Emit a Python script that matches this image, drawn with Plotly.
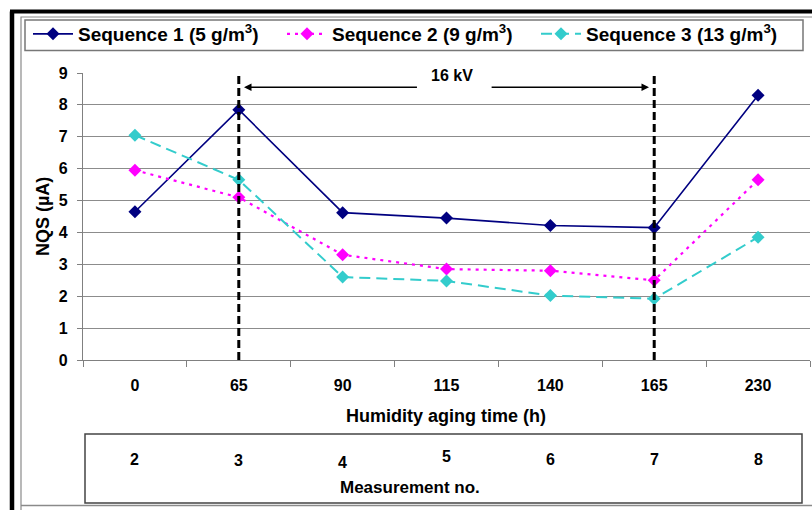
import plotly.graph_objects as go

# ---------------- data ----------------
aging_time_h = ["0", "65", "90", "115", "140", "165", "230"]
measurement_no = ["2", "3", "4", "5", "6", "7", "8"]
seq1_nqs = [4.65, 7.85, 4.62, 4.45, 4.22, 4.15, 8.30]
seq2_nqs = [5.95, 5.10, 3.30, 2.85, 2.80, 2.50, 5.65]
seq3_nqs = [7.05, 5.65, 2.60, 2.48, 2.02, 1.92, 3.85]
series_names = ["Sequence 1 (5 g/m<sup>3</sup>)",
                "Sequence 2 (9 g/m<sup>3</sup>)",
                "Sequence 3 (13 g/m<sup>3</sup>)"]
voltage_label = "16 kV"
voltage_start, voltage_end = "65", "165"

# ---------------- layout helpers ----------------
W, H = 812, 510
L, R, T, B = 83, 2, 73, 150
PW, PH = W - L - R, H - T - B


def px(x):
    return (x - L) / PW


def py(y):
    return (H - B - y) / PH


FONT = "Liberation Sans, Arial, sans-serif"

fig = go.Figure()
styles = [
    dict(color="#000080", width=1.6, dash="solid"),
    dict(color="#FF00FF", width=2.2, dash="3px,5px"),
    dict(color="#33CCCC", width=2.0, dash="11px,6px"),
]
for name, vals, st in zip(series_names, [seq1_nqs, seq2_nqs, seq3_nqs], styles):
    fig.add_trace(go.Scatter(
        x=aging_time_h, y=vals, name=name, mode="lines+markers",
        line=st, marker=dict(symbol="diamond", size=10, color=st["color"]),
    ))

shapes = []
# outer frame (black thick left/top)
shapes.append(dict(type="line", xref="paper", yref="paper",
                   x0=px(12), x1=px(12), y0=py(510), y1=py(11.5),
                   line=dict(color="black", width=4.5)))
shapes.append(dict(type="line", xref="paper", yref="paper",
                   x0=px(10), x1=px(812), y0=py(11.5), y1=py(11.5),
                   line=dict(color="black", width=4)))
# inner gray frame
shapes.append(dict(type="path", xref="paper", yref="paper",
                   path=f"M {px(21)} {py(510)} L {px(21)} {py(17)} L {px(812)} {py(17)}",
                   line=dict(color="#8a8a8a", width=1.2)))
shapes.append(dict(type="line", xref="paper", yref="paper",
                   x0=px(21), x1=px(812), y0=py(505.5), y1=py(505.5),
                   line=dict(color="#8a8a8a", width=1.5)))
# legend box
shapes.append(dict(type="rect", xref="paper", yref="paper",
                   x0=px(25), x1=px(803), y0=py(20), y1=py(50.5),
                   line=dict(color="#777777", width=1.5)))
# measurement table box
shapes.append(dict(type="rect", xref="paper", yref="paper",
                   x0=px(85), x1=px(802), y0=py(434), y1=py(503),
                   line=dict(color="#444444", width=1.5)))
# vertical dashed lines marking 16 kV period
for cat in (voltage_start, voltage_end):
    idx = aging_time_h.index(cat)
    shapes.append(dict(type="line", xref="x", yref="y", x0=idx, x1=idx,
                       y0=0, y1=9, line=dict(color="black", width=3, dash="8px,4px"),
                       layer="above"))

i0 = aging_time_h.index(voltage_start)
i1 = aging_time_h.index(voltage_end)
annotations = [
    dict(text="<b>" + voltage_label + "</b>", x=(i0 + i1) / 2 + 0.05, y=8.92,
         xref="x", yref="y", showarrow=False, xanchor="center", yanchor="middle",
         font=dict(family=FONT, size=16, color="black")),
    dict(text="", x=i0 + 0.05, y=8.55, ax=i0 + 1.73, ay=8.55,
         xref="x", yref="y", axref="x", ayref="y", showarrow=True,
         arrowhead=2, arrowsize=1, arrowwidth=1.5, arrowcolor="black"),
    dict(text="", x=i1 - 0.05, y=8.55, ax=i0 + 2.42, ay=8.55,
         xref="x", yref="y", axref="x", ayref="y", showarrow=True,
         arrowhead=2, arrowsize=1, arrowwidth=1.5, arrowcolor="black"),
    dict(text="<b>Humidity aging time (h)</b>", x=px(446), y=py(416),
         xref="paper", yref="paper", showarrow=False,
         xanchor="center", yanchor="middle",
         font=dict(family=FONT, size=18, color="black")),
    dict(text="<b>NQS (µA)</b>", x=px(43), y=py(217),
         xref="paper", yref="paper", showarrow=False, textangle=-90,
         xanchor="center", yanchor="middle",
         font=dict(family=FONT, size=18, color="black")),
    dict(text="<b>Measurement no.</b>", x=px(410), y=py(488),
         xref="paper", yref="paper", showarrow=False,
         xanchor="center", yanchor="middle",
         font=dict(family=FONT, size=17, color="black")),
]
yshifts = [0, -1, -3, 3, 0, 0, 0]
for i, m in enumerate(measurement_no):
    annotations.append(dict(text="<b>" + m + "</b>", x=i, y=py(459),
                            xref="x", yref="paper", showarrow=False,
                            xanchor="center", yanchor="middle",
                            yshift=yshifts[i],
                            font=dict(family=FONT, size=16, color="black")))

fig.update_layout(
    width=W, height=H, autosize=False,
    margin=dict(l=L, r=R, t=T, b=B, pad=0),
    paper_bgcolor="white", plot_bgcolor="white",
    font=dict(family=FONT, size=16, color="black"),
    showlegend=True,
    legend=dict(orientation="h", x=px(28), y=py(15), xanchor="left", yanchor="top",
                bgcolor="rgba(0,0,0,0)", borderwidth=0,
                font=dict(family=FONT, size=19, color="black", weight=700),
                entrywidth=199, entrywidthmode="pixels", itemwidth=40,
                traceorder="normal"),
    xaxis=dict(type="category", categoryorder="array", categoryarray=aging_time_h,
               range=[-0.5, 6.5], showgrid=False, showline=True,
               linecolor="#808080", linewidth=1.2, ticks="outside", ticklen=6,
               tickcolor="#808080", tickson="boundaries",
               tickfont=dict(family=FONT, size=16, color="black", weight=700),
               ticklabelstandoff=11, zeroline=False),
    yaxis=dict(range=[0, 9], dtick=1, tick0=0, showgrid=True,
               gridcolor="#8c8c8c", gridwidth=1, showline=True,
               linecolor="#808080", linewidth=1.2, ticks="outside", ticklen=5,
               tickcolor="#808080",
               tickfont=dict(family=FONT, size=16, color="black", weight=700),
               ticklabelstandoff=6, zeroline=False),
    shapes=shapes,
    annotations=annotations,
)

fig.write_html("out.html")
